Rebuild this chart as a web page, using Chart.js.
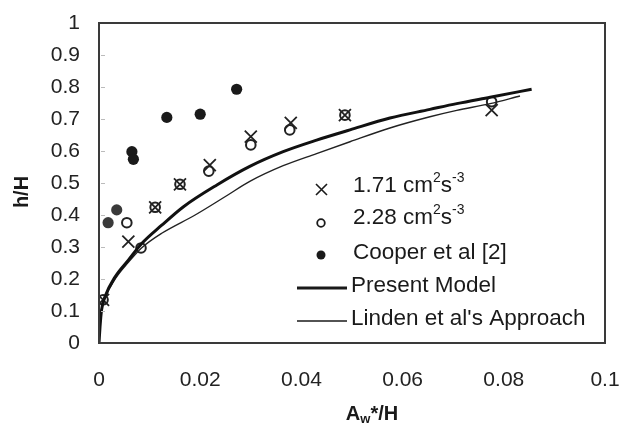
<!DOCTYPE html>
<html>
<head>
<meta charset="utf-8">
<script src="https://cdn.jsdelivr.net/npm/chart.js@4"></script>
<style>
html,body{margin:0;padding:0;background:#fff;}
#wrap{width:619px;height:434px;}
</style>
</head>
<body>
<div id="wrap"><canvas id="c" width="619" height="434"></canvas></div>
<script>
// ---- data ----
const xTickLabels = ['0','0.02','0.04','0.06','0.08','0.1'];
const yTickLabels = ['0','0.1','0.2','0.3','0.4','0.5','0.6','0.7','0.8','0.9','1'];

const s171X = [0.0008, 0.0058, 0.0111, 0.0160, 0.0219, 0.0300, 0.0379, 0.0486, 0.0776];
const s171Y = [0.135, 0.317, 0.424, 0.496, 0.556, 0.645, 0.688, 0.712, 0.728];

const s228X = [0.0008, 0.0055, 0.0083, 0.0111, 0.0160, 0.0217, 0.0300, 0.0377, 0.0486, 0.0776];
const s228Y = [0.135, 0.376, 0.297, 0.424, 0.496, 0.537, 0.619, 0.666, 0.712, 0.754];

const cooperX = [0.0018, 0.0035, 0.0065, 0.0068, 0.0134, 0.0200, 0.0272];
const cooperY = [0.376, 0.416, 0.598, 0.574, 0.705, 0.715, 0.793];

const presentX = [0, 0.0002, 0.0005, 0.0012, 0.0032, 0.0058, 0.0084, 0.0124, 0.0167, 0.0233, 0.0298, 0.0364, 0.0430, 0.0496, 0.0575, 0.0654, 0.0707, 0.0773, 0.0855];
const presentY = [0, 0.050, 0.103, 0.145, 0.207, 0.259, 0.310, 0.368, 0.426, 0.494, 0.552, 0.598, 0.634, 0.666, 0.703, 0.730, 0.748, 0.768, 0.793];

const lindenX = [0, 0.0002, 0.0005, 0.0012, 0.0032, 0.0058, 0.0084, 0.0124, 0.0190, 0.0249, 0.0298, 0.0364, 0.0430, 0.0496, 0.0575, 0.0654, 0.0707, 0.0773, 0.0832];
const lindenY = [0, 0.050, 0.100, 0.140, 0.200, 0.252, 0.297, 0.343, 0.400, 0.457, 0.505, 0.554, 0.592, 0.629, 0.672, 0.707, 0.727, 0.748, 0.772];

const legendLabels = ['1.71 cm', '2.28 cm', 'Cooper et al [2]', 'Present Model', "Linden et al's Approach"];

const pts = (xs, ys) => xs.map((x, i) => ({x: x, y: ys[i]}));
const FONT = "'Liberation Sans', Arial, Helvetica, sans-serif";

const framePlugin = {
  id: 'frame',
  afterDraw(chart) {
    const ctx = chart.ctx, a = chart.chartArea;
    ctx.save();
    // faint inner ticks on y axis
    ctx.strokeStyle = '#bbb';
    ctx.lineWidth = 1;
    const ys = chart.scales.y;
    for (let i = 1; i < yTickLabels.length - 1; i++) {
      const py = Math.round(ys.getPixelForValue(i / 10)) + 0.5;
      ctx.beginPath(); ctx.moveTo(a.left + 2, py); ctx.lineTo(a.left + 6, py); ctx.stroke();
    }
    // frame
    ctx.strokeStyle = '#3a3a3a';
    ctx.lineWidth = 2;
    ctx.strokeRect(a.left, a.top, a.right - a.left, a.bottom - a.top);

    // legend
    ctx.fillStyle = '#1a1a1a';
    ctx.strokeStyle = '#1a1a1a';
    const tx = 353;
    const big = '22.5px ' + FONT, small = '14px ' + FONT;
    ctx.textBaseline = 'middle';
    ctx.textAlign = 'left';
    function supText(label, cy) {
      ctx.font = big;
      ctx.fillText(label, tx, cy);
      let x = tx + ctx.measureText(label).width;
      ctx.font = small; ctx.fillText('2', x, cy - 8); x += ctx.measureText('2').width;
      ctx.font = big; ctx.fillText('s', x, cy); x += ctx.measureText('s').width;
      ctx.font = small; ctx.fillText('-3', x, cy - 8);
    }
    // row 1 cross
    ctx.lineWidth = 1.6;
    ctx.beginPath();
    ctx.moveTo(316, 184); ctx.lineTo(327, 195);
    ctx.moveTo(327, 184); ctx.lineTo(316, 195);
    ctx.stroke();
    supText(legendLabels[0], 186);
    // row 2 open circle
    ctx.lineWidth = 1.8;
    ctx.beginPath(); ctx.arc(321, 223, 3.8, 0, Math.PI * 2); ctx.stroke();
    supText(legendLabels[1], 218);
    // row 3 filled
    ctx.beginPath(); ctx.arc(321, 255, 4.5, 0, Math.PI * 2); ctx.fill();
    ctx.font = big; ctx.fillText(legendLabels[2], tx, 253);
    // row 4 thick line
    ctx.lineWidth = 3;
    ctx.beginPath(); ctx.moveTo(297, 288); ctx.lineTo(347, 288); ctx.stroke();
    ctx.fillText(legendLabels[3], 351, 286);
    // row 5 thin line
    ctx.lineWidth = 1.5;
    ctx.beginPath(); ctx.moveTo(297, 321); ctx.lineTo(347, 321); ctx.stroke();
    ctx.fillText(legendLabels[4], 351, 319);

    // axis titles
    ctx.font = 'bold 20px ' + FONT;
    ctx.save();
    ctx.translate(22, 192);
    ctx.rotate(-Math.PI / 2);
    ctx.textAlign = 'center';
    ctx.fillText('h/H', 0, 0);
    ctx.restore();
    // x title A_w*/H
    const bx = 'bold 20px ' + FONT, bs = 'bold 13px ' + FONT;
    ctx.font = bx; const wA = ctx.measureText('A').width;
    ctx.font = bs; const wW = ctx.measureText('w').width;
    ctx.font = bx; const wR = ctx.measureText('*/H').width;
    let x0 = 372 - (wA + wW + wR) / 2;
    const yT = 414;
    ctx.textAlign = 'left';
    ctx.font = bx; ctx.fillText('A', x0, yT); x0 += wA;
    ctx.font = bs; ctx.fillText('w', x0, yT + 5); x0 += wW;
    ctx.font = bx; ctx.fillText('*/H', x0, yT);
    ctx.restore();
  }
};

function zeroPad(s) { s.paddingLeft = 0; s.paddingRight = 0; s.paddingTop = 0; s.paddingBottom = 0; }

new Chart(document.getElementById('c'), {
  type: 'scatter',
  data: {
    datasets: [
      {
        label: 'Present Model', type: 'line', data: pts(presentX, presentY),
        borderColor: '#111', borderWidth: 3, pointRadius: 0, fill: false,
        cubicInterpolationMode: 'monotone'
      },
      {
        label: "Linden et al's Approach", type: 'line', data: pts(lindenX, lindenY),
        borderColor: '#222', borderWidth: 1.4, pointRadius: 0, fill: false,
        cubicInterpolationMode: 'monotone'
      },
      {
        label: '1.71', data: pts(s171X, s171Y), pointStyle: 'crossRot',
        pointRadius: 8.5, borderColor: '#222', borderWidth: 1.8, backgroundColor: '#222'
      },
      {
        label: '2.28', data: pts(s228X, s228Y), pointStyle: 'circle',
        pointRadius: 4.8, borderColor: '#222', borderWidth: 2, backgroundColor: 'rgba(0,0,0,0)'
      },
      {
        label: 'Cooper', data: pts(cooperX, cooperY), pointStyle: 'circle',
        pointRadius: 5.6, borderColor: '#1a1a1a', borderWidth: 0,
        backgroundColor: ['#3a3a3a', '#3a3a3a', '#1a1a1a', '#1a1a1a', '#1a1a1a', '#1a1a1a', '#1a1a1a']
      }
    ]
  },
  options: {
    responsive: false,
    animation: false,
    devicePixelRatio: 1,
    layout: { padding: { left: 0, right: 14, top: 23, bottom: 0 } },
    plugins: { legend: { display: false }, tooltip: { enabled: false } },
    scales: {
      x: {
        type: 'linear', min: 0, max: 0.1,
        afterFit(s) { s.height = 91; zeroPad(s); },
        grid: { display: false, drawTicks: false },
        border: { display: false },
        ticks: {
          stepSize: 0.02, padding: 25, color: '#222',
          font: { family: FONT, size: 21 },
          callback: (v, i) => xTickLabels[i]
        }
      },
      y: {
        type: 'linear', min: 0, max: 1,
        afterFit(s) { s.width = 99; zeroPad(s); },
        grid: { display: false, drawTicks: false },
        border: { display: false },
        ticks: {
          stepSize: 0.1, padding: 19, color: '#222',
          font: { family: FONT, size: 21 },
          callback: (v, i) => yTickLabels[i]
        }
      }
    }
  },
  plugins: [framePlugin]
});
</script>
</body>
</html>
